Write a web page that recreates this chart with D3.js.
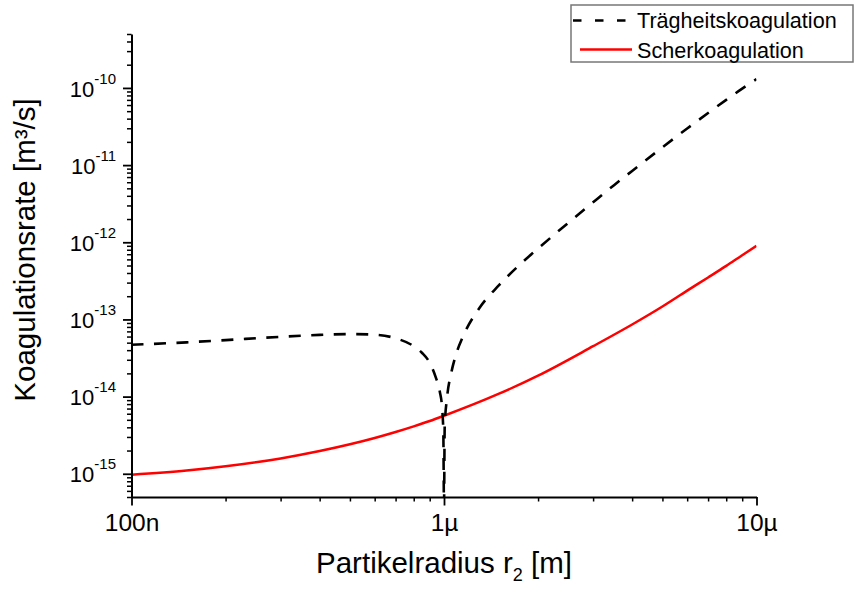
<!DOCTYPE html>
<html>
<head>
<meta charset="utf-8">
<script src="https://cdn.jsdelivr.net/npm/d3@7"></script>
<style>
  body { margin: 0; background: #fff; }
  text { font-family: Arial, "Liberation Sans", sans-serif; fill: #000; }
</style>
</head>
<body>
<div id="chart-area"></div>
<script>
// Scherkoagulation (rot)
var scherR = [1e-7, 1.5e-7, 2e-7, 3e-7, 4e-7, 5e-7, 6e-7, 7e-7, 8e-7, 9e-7, 1e-6,
  1.5e-6, 2e-6, 3e-6, 4e-6, 5e-6, 6e-6, 7e-6, 8e-6, 9e-6, 1e-5];
var scherK = [9.7e-16, 1.10e-15, 1.25e-15, 1.58e-15, 1.97e-15, 2.41e-15, 2.91e-15, 3.48e-15, 4.12e-15, 4.83e-15, 5.65e-15,
  1.09e-14, 1.87e-14, 4.5e-14, 8.6e-14, 1.47e-13, 2.36e-13, 3.5e-13, 4.95e-13, 6.8e-13, 9.0e-13];

// Trägheitskoagulation (gestrichelt)
var traegR = [1e-7, 1.5e-7, 2e-7, 3e-7, 4e-7, 5e-7, 6e-7, 7e-7, 8e-7, 8.5e-7, 9e-7, 9.4e-7, 9.7e-7, 9.85e-7, 9.95e-7, 9.999e-7,
  1.0001e-6, 1.005e-6, 1.023e-6, 1.054e-6, 1.085e-6, 1.15e-6, 1.3e-6, 1.5e-6, 1.75e-6, 2e-6, 2.5e-6,
  3e-6, 3.5e-6, 4e-6, 5e-6, 6e-6, 7e-6, 8e-6, 9e-6, 1e-5];
var traegK = [4.7e-14, 5.05e-14, 5.4e-14, 5.95e-14, 6.3e-14, 6.45e-14, 6.35e-14, 5.7e-14, 4.5e-14, 3.7e-14, 2.75e-14, 1.8e-14, 1.15e-14, 7.5e-15, 3.5e-15, 4e-16,
  4e-16, 4e-15, 9.8e-15, 2.0e-14, 3.2e-14, 6.0e-14, 1.42e-13, 2.78e-13, 5.15e-13, 8.3e-13, 1.79e-12,
  3.3e-12, 5.5e-12, 8.4e-12, 1.7e-11, 2.98e-11, 4.73e-11, 7.0e-11, 9.8e-11, 1.3e-10];

var xTicks = [1e-7, 1e-6, 1e-5];
var xTickLabels = ["100n", "1µ", "10µ"];
var yTicks = [1e-15, 1e-14, 1e-13, 1e-12, 1e-11, 1e-10];
var yTickExp = ["-15", "-14", "-13", "-12", "-11", "-10"];

var seriesNames = ["Trägheitskoagulation", "Scherkoagulation"];

var width = 855;
var height = 589;
var plotLeft = 131.5, plotRight = 756.5, plotTop = 34, plotBottom = 497;

var svg = d3.select("#chart-area")
  .append("svg")
  .attr("width", width)
  .attr("height", height);

svg.append("rect").attr("width", width).attr("height", height).attr("fill", "#fff");

var x = d3.scaleLog().domain([1e-7, 1e-5]).range([plotLeft, plotRight]);
var y = d3.scaleLog().domain([5e-16, 5e-10]).range([plotBottom, plotTop]);

svg.append("defs").append("clipPath").attr("id", "plot-clip")
  .append("rect")
  .attr("x", plotLeft).attr("y", plotTop)
  .attr("width", plotRight - plotLeft).attr("height", plotBottom - plotTop);

// Kurven
var line = d3.line()
  .x(d => x(d[0]))
  .y(d => y(d[1]))
  .curve(d3.curveMonotoneX);

var plot = svg.append("g").attr("clip-path", "url(#plot-clip)");

plot.append("path")
  .datum(scherR.map((r, i) => [r, scherK[i]]))
  .attr("d", line)
  .attr("fill", "none")
  .attr("stroke", "#ff0000")
  .attr("stroke-width", 2.5);

plot.append("path")
  .datum(traegR.map((r, i) => [r, traegK[i]]))
  .attr("d", line)
  .attr("fill", "none")
  .attr("stroke", "#000")
  .attr("stroke-width", 2.6)
  .attr("stroke-dasharray", "12,10.5");

// Achsen: Nebenticks
var xMinor = x.ticks().filter(t => !xTicks.some(v => Math.abs(v - t) / v < 1e-6));
var yMinor = y.ticks().filter(t => !yTicks.some(v => Math.abs(v - t) / v < 1e-6));

svg.append("g")
  .attr("transform", "translate(0," + plotBottom + ")")
  .call(d3.axisBottom(x).tickValues(xMinor).tickSize(4.5).tickFormat(""))
  .call(g => g.select(".domain").remove())
  .selectAll("line").attr("stroke-width", 1.5);

svg.append("g")
  .attr("transform", "translate(" + plotLeft + ",0)")
  .call(d3.axisLeft(y).tickValues(yMinor).tickSize(4.5).tickFormat(""))
  .call(g => g.select(".domain").remove())
  .selectAll("line").attr("stroke-width", 1.5);

// Hauptticks
var xAxis = svg.append("g")
  .attr("transform", "translate(0," + plotBottom + ")")
  .call(d3.axisBottom(x).tickValues(xTicks).tickSize(8.5).tickSizeOuter(0)
    .tickFormat((d, i) => xTickLabels[i]));
xAxis.select(".domain").attr("stroke-width", 2);
xAxis.selectAll("line").attr("stroke-width", 1.8);
xAxis.selectAll("text")
  .attr("font-size", "24.5px")
  .attr("font-family", "Arial, 'Liberation Sans', sans-serif")
  .attr("fill", "#000")
  .attr("y", 17);

var yAxis = svg.append("g")
  .attr("transform", "translate(" + plotLeft + ",0)")
  .call(d3.axisLeft(y).tickValues(yTicks).tickSize(8.5).tickSizeOuter(0).tickFormat(""));
yAxis.select(".domain").attr("stroke-width", 2);
yAxis.selectAll("line").attr("stroke-width", 1.8);

var yLab = svg.append("g").selectAll("text")
  .data(yTicks).enter()
  .append("text")
  .attr("x", 116)
  .attr("y", d => y(d) + 8.6)
  .attr("text-anchor", "end")
  .attr("font-size", "22px");
yLab.append("tspan").text("10");
yLab.append("tspan")
  .attr("font-size", "15px")
  .attr("dy", -13)
  .text((d, i) => yTickExp[i]);

// Achsentitel
var xTitle = svg.append("text")
  .attr("x", (plotLeft + plotRight) / 2)
  .attr("y", 573)
  .attr("text-anchor", "middle")
  .attr("font-size", "29.5px");
xTitle.append("tspan").text("Partikelradius r");
xTitle.append("tspan").attr("font-size", "18px").attr("dy", 8).text("2");
xTitle.append("tspan").attr("dy", -8).text(" [m]");

svg.append("text")
  .attr("transform", "translate(35," + 250 + ") rotate(-90)")
  .attr("text-anchor", "middle")
  .attr("font-size", "29.5px")
  .text("Koagulationsrate [m³/s]");

// Legende
var legend = svg.append("g");
legend.append("rect")
  .attr("x", 571).attr("y", 5)
  .attr("width", 282).attr("height", 57)
  .attr("fill", "#fff")
  .attr("stroke", "#777")
  .attr("stroke-width", 1.5);

legend.append("line")
  .attr("x1", 573).attr("x2", 626)
  .attr("y1", 20.5).attr("y2", 20.5)
  .attr("stroke", "#000").attr("stroke-width", 2.6)
  .attr("stroke-dasharray", "8.5,13.5");

legend.append("line")
  .attr("x1", 580).attr("x2", 632)
  .attr("y1", 49.5).attr("y2", 49.5)
  .attr("stroke", "#ff0000").attr("stroke-width", 2.5);

legend.selectAll(".leg-text")
  .data(seriesNames).enter()
  .append("text")
  .attr("class", "leg-text")
  .attr("x", 637)
  .attr("y", (d, i) => 28 + i * 30)
  .attr("font-size", "21.6px")
  .text(d => d);
</script>
</body>
</html>
